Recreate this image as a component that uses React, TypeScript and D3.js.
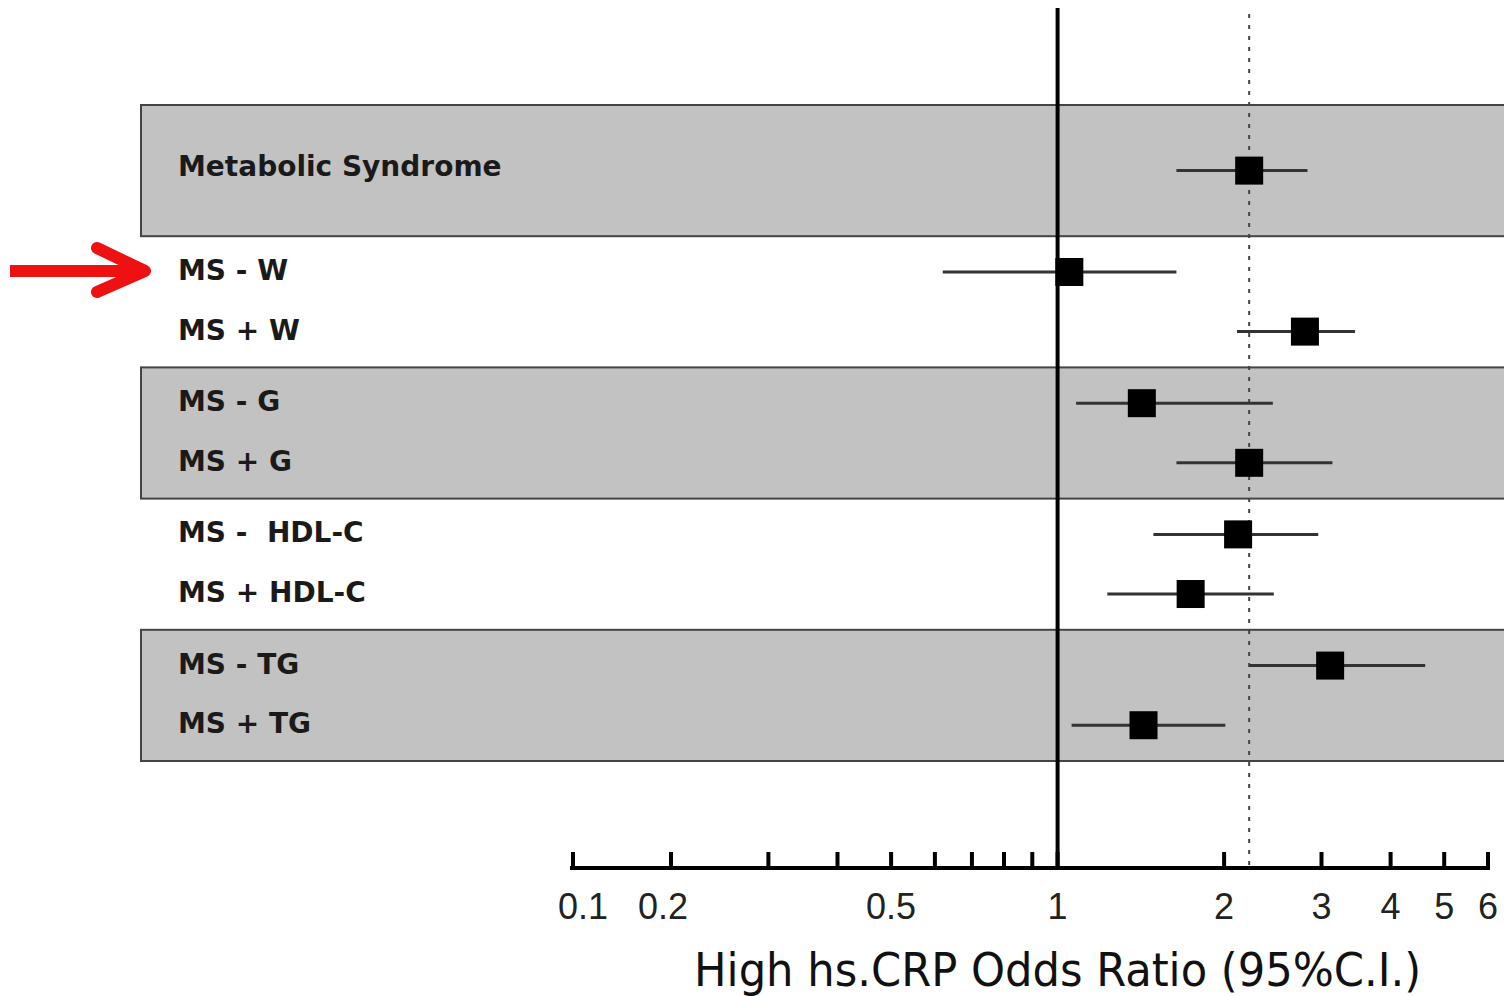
import React from "react";
import * as d3 from "d3";

// ---- data ----
const rowLabels = [
  "Metabolic Syndrome",
  "MS - W",
  "MS + W",
  "MS - G",
  "MS + G",
  "MS -  HDL-C",
  "MS + HDL-C",
  "MS - TG",
  "MS + TG",
];
const rowGroup = [0, 1, 1, 2, 2, 3, 3, 4, 4];
const groupShaded = [true, false, true, false, true];
const oddsRatio = [2.22, 1.05, 2.8, 1.42, 2.22, 2.12, 1.74, 3.11, 1.43];
const ciLow = [1.64, 0.62, 2.11, 1.08, 1.64, 1.49, 1.23, 2.22, 1.06];
const ciHigh = [2.83, 1.64, 3.45, 2.45, 3.14, 2.96, 2.46, 4.62, 2.01];
const referenceOR = 2.22;
const nullOR = 1;
const axisMin = 0.133;
const axisMax = 6;
const tickValues = [axisMin, 0.2, 0.3, 0.4, 0.5, 0.6, 0.7, 0.8, 0.9, 1, 2, 3, 4, 5, 6];
const tickLabels = ["0.1", "0.2", "", "", "0.5", "", "", "", "", "1", "2", "3", "4", "5", "6"];
const axisTitle = "High hs.CRP Odds Ratio (95%C.I.)";

export default function App() {
  const W = 1504;
  const H = 996;
  const x = d3.scaleLog().domain([axisMin, axisMax]).range([573, 1488]);
  const groups = d3.range(groupShaded.length);
  const gy = d3.scaleBand<number>().domain(groups).range([105, 761]).padding(0);
  const bw = gy.bandwidth();

  const rowY = rowLabels.map((_, i) => {
    const g = rowGroup[i];
    const members = rowLabels.map((_, j) => j).filter((j) => rowGroup[j] === g);
    const start = gy(g) as number;
    if (members.length === 1) return start + bw / 2;
    const sp = d3.scalePoint<number>().domain(members).range([start, start + bw]).padding(0.6);
    return sp(i) as number;
  });

  const axisY = 868;
  const sq = 28;
  const labelFont = "'DejaVu Sans', 'Liberation Sans', Arial, sans-serif";
  const tickFont = "'Liberation Sans', Arial, Helvetica, sans-serif";

  return (
    <svg
      width={W}
      height={H}
      style={{ position: "absolute", left: 0, top: 0, background: "#fff" }}
    >
      {/* shaded bands */}
      {groups.map((g) =>
        groupShaded[g] ? (
          <rect
            key={"band" + g}
            x={141}
            y={gy(g) as number}
            width={W}
            height={bw}
            fill="#c2c2c2"
            stroke="#444"
            strokeWidth={2}
          />
        ) : null
      )}

      {/* reference lines */}
      <line x1={x(nullOR)} x2={x(nullOR)} y1={8} y2={axisY} stroke="#000" strokeWidth={4} />
      <line
        x1={x(referenceOR)}
        x2={x(referenceOR)}
        y1={14}
        y2={axisY}
        stroke="#444"
        strokeWidth={2}
        strokeDasharray="4 7"
      />

      {/* row labels */}
      {rowLabels.map((lab, i) => (
        <text
          key={"lab" + i}
          x={178}
          y={rowY[i] + (i === 0 ? 5 : 8)}
          fontFamily={labelFont}
          fontWeight="bold"
          fontSize={28}
          fill="#1a1a1a"
          style={{ whiteSpace: "pre" }}
        >
          {lab}
        </text>
      ))}

      {/* CI lines and points */}
      {rowLabels.map((_, i) => (
        <g key={"pt" + i}>
          <line
            x1={x(ciLow[i])}
            x2={x(ciHigh[i])}
            y1={rowY[i]}
            y2={rowY[i]}
            stroke="#333"
            strokeWidth={3}
          />
          <rect
            x={x(oddsRatio[i]) - sq / 2}
            y={rowY[i] - sq / 2}
            width={sq}
            height={sq}
            fill="#000"
          />
        </g>
      ))}

      {/* axis */}
      <line x1={570} x2={1490} y1={axisY} y2={axisY} stroke="#000" strokeWidth={4} />
      {tickValues.map((t, i) => (
        <g key={"tk" + i}>
          <line x1={x(t)} x2={x(t)} y1={axisY} y2={axisY - 16} stroke="#000" strokeWidth={4} />
          {tickLabels[i] ? (
            <text
              x={x(t) + (i === 0 ? 10 : i === 1 ? -8 : 0)}
              y={919}
              textAnchor="middle"
              fontFamily={tickFont}
              fontSize={36}
              fill="#222"
            >
              {tickLabels[i]}
            </text>
          ) : null}
        </g>
      ))}
      <text
        x={x(nullOR)}
        y={986}
        textAnchor="middle"
        fontFamily="'DejaVu Sans Condensed', 'DejaVu Sans', sans-serif"
        fontSize={46}
        textLength={727}
        lengthAdjust="spacingAndGlyphs"
        fill="#111"
      >
        {axisTitle}
      </text>

      {/* red arrow */}
      <g stroke="#ee1111" strokeLinecap="round" strokeLinejoin="round" fill="none">
        <line x1={10} y1={271} x2={138} y2={271} strokeWidth={12} strokeLinecap="butt" />
        <polyline points="97,248 145,271 97,292" strokeWidth={12} />
      </g>
    </svg>
  );
}
